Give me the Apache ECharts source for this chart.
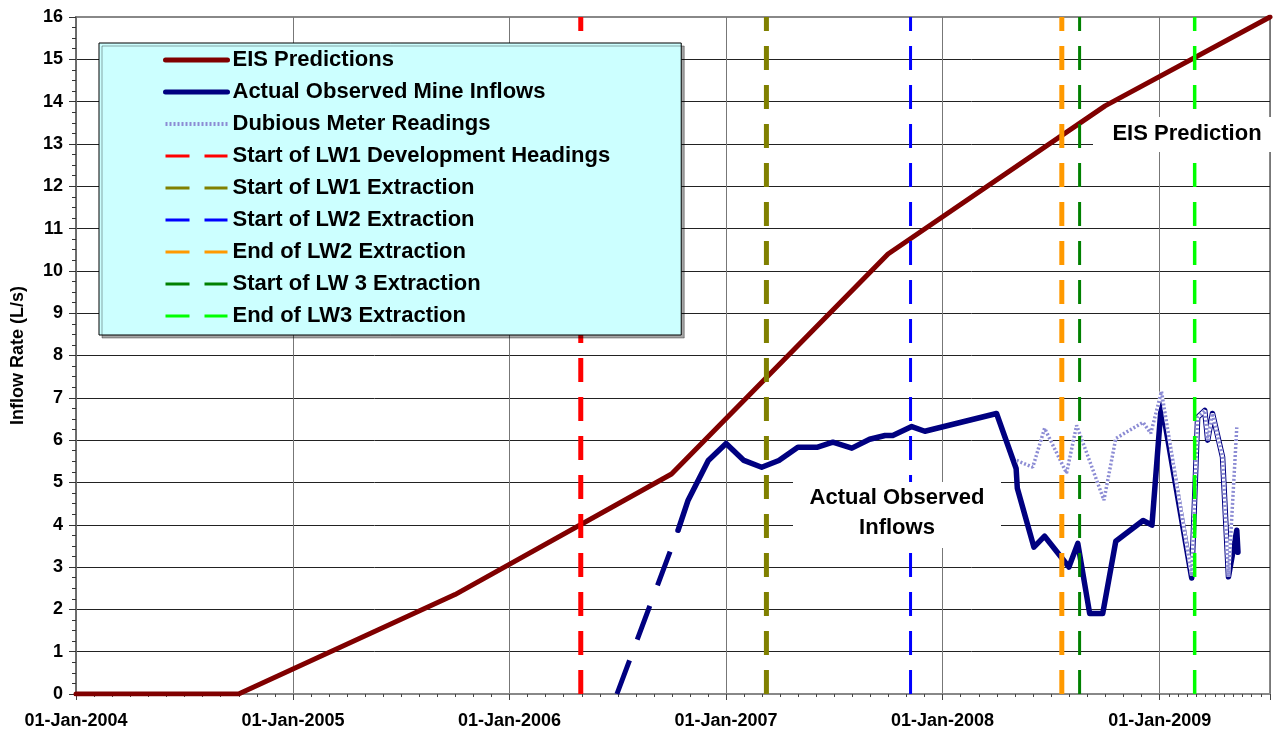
<!DOCTYPE html>
<html>
<head>
<meta charset="utf-8">
<title>Mine inflows vs EIS predictions</title>
<script src="https://cdn.jsdelivr.net/npm/echarts@6/dist/echarts.min.js"></script>
<style>
  html, body { margin: 0; padding: 0; background: #fff; }
  #chart { width: 1279px; height: 733px; }
</style>
</head>
<body>
<div id="chart"></div>
<script>
// EIS predicted inflow (L/s)
const eisDates = ['2004-01-01', '2004-10-01', '2005-10-01', '2006-10-01', '2007-10-01', '2008-10-01', '2009-07-06'];
const eisValues = [0, 0, 2.35, 5.2, 10.4, 13.9, 16];

// inferred ramp-up of observed inflows (dashed)
const rampDates = ['2006-07-01', '2006-10-12'];
const rampValues = [0, 3.87];

// actual observed mine inflows (L/s)
const obsDates = [
  '2006-10-12', '2006-10-29', '2006-12-02', '2007-01-01', '2007-01-31', '2007-03-02', '2007-03-31',
  '2007-05-02', '2007-06-03', '2007-06-30', '2007-08-01', '2007-08-31', '2007-09-26', '2007-10-09',
  '2007-11-10', '2007-12-02', '2008-04-01', '2008-05-04', '2008-05-06', '2008-06-03', '2008-06-21',
  '2008-08-01', '2008-08-16', '2008-09-05', '2008-09-27', '2008-10-19', '2008-12-04', '2008-12-19',
  '2009-01-04', '2009-02-24', '2009-03-06', '2009-03-18', '2009-03-23', '2009-03-31', '2009-04-17',
  '2009-04-27', '2009-05-11', '2009-05-13'
];
const obsValues = [
  3.87, 4.58, 5.52, 5.92, 5.52, 5.36, 5.52,
  5.83, 5.83, 5.95, 5.81, 6.02, 6.11, 6.11,
  6.32, 6.21, 6.63, 5.33, 4.86, 3.47, 3.73,
  3.0, 3.56, 1.9, 1.9, 3.61, 4.1, 3.99,
  6.89, 2.74, 6.54, 6.7, 6.0, 6.63, 5.6,
  2.77, 3.87, 3.35
];

// dubious meter readings (L/s)
const dubDates = [
  '2008-05-05', '2008-06-01', '2008-06-21', '2008-07-28', '2008-08-14', '2008-09-29', '2008-10-19',
  '2008-12-04', '2008-12-17', '2009-01-04', '2009-02-24', '2009-03-06', '2009-03-18', '2009-03-23',
  '2009-03-31', '2009-04-17', '2009-04-27', '2009-05-11'
];
const dubValues = [
  5.52, 5.36, 6.28, 5.22, 6.35, 4.58, 6.04,
  6.42, 6.16, 7.15, 2.8, 6.54, 6.7, 6.0,
  6.63, 5.6, 2.77, 6.3
];

// mining events (vertical dashed markers)
const eventNames = [
  'Start of LW1 Development Headings', 'Start of LW1 Extraction', 'Start of LW2 Extraction',
  'End of LW2 Extraction', 'Start of LW 3 Extraction', 'End of LW3 Extraction'
];
const eventDates = ['2006-05-01', '2007-03-10', '2007-11-08', '2008-07-20', '2008-08-19', '2009-03-01'];
const eventColors = ['#ff0000', '#808000', '#0000ff', '#ff9900', '#008000', '#00ff00'];
const eventWidths = [5, 5, 3, 5, 3, 3.5];

const yTop = 16;
const MONTHS = ['Jan', 'Feb', 'Mar', 'Apr', 'May', 'Jun', 'Jul', 'Aug', 'Sep', 'Oct', 'Nov', 'Dec'];
const FONT = 'Liberation Sans, Arial, sans-serif';
const DASH = [24, 15];

function toTime(s) {
  const p = s.split('-');
  return new Date(+p[0], +p[1] - 1, +p[2]).getTime();
}
function zip(dates, values) {
  return dates.map((d, i) => [toTime(d), values[i]]);
}
function fmtDate(v) {
  const d = new Date(v);
  const dd = d.getDate() < 10 ? '0' + d.getDate() : '' + d.getDate();
  return dd + '-' + MONTHS[d.getMonth()] + '-' + d.getFullYear();
}

const series = [
  {
    name: 'EIS Predictions',
    type: 'line',
    symbol: 'none',
    data: zip(eisDates, eisValues),
    lineStyle: { color: '#800000', width: 5, cap: 'round' },
    itemStyle: { color: '#800000' },
  },
  {
    name: 'Actual Observed Mine Inflows',
    type: 'line',
    symbol: 'none',
    data: zip(obsDates, obsValues),
    lineStyle: { color: '#000080', width: 5.5, cap: 'round', join: 'round' },
    itemStyle: { color: '#000080' },
  },
  {
    name: 'ramp',
    type: 'line',
    symbol: 'none',
    data: zip(rampDates, rampValues),
    lineStyle: { color: '#000080', width: 5, type: [36, 22] },
  },
  {
    name: 'dubious-base',
    type: 'line',
    symbol: 'none',
    data: zip(dubDates, dubValues),
    lineStyle: { color: '#ffffff', width: 3.5 },
  },
  {
    name: 'Dubious Meter Readings',
    type: 'line',
    symbol: 'none',
    data: zip(dubDates, dubValues),
    lineStyle: { color: '#8c8cd4', width: 3.5, type: [2, 2] },
    itemStyle: { color: '#8c8cd4' },
  },
];

eventNames.forEach((name, i) => {
  series.push({
    name: name,
    type: 'line',
    symbol: 'none',
    data: [[toTime(eventDates[i]), 0], [toTime(eventDates[i]), yTop]],
    lineStyle: { color: eventColors[i], width: eventWidths[i], type: DASH },
    itemStyle: { color: eventColors[i] },
  });
});

const legendData = [
  { name: 'EIS Predictions', lineStyle: { width: 5, cap: 'round' } },
  { name: 'Actual Observed Mine Inflows', lineStyle: { width: 5, cap: 'round' } },
  { name: 'Dubious Meter Readings', lineStyle: { width: 4, type: [2, 2] } },
].concat(eventNames.map((n) => ({ name: n, lineStyle: { width: 3, type: DASH } })));

const chart = echarts.init(document.getElementById('chart'));
chart.setOption({
  animation: false,
  textStyle: { fontFamily: FONT },
  grid: {
    left: 76, right: 9, top: 17, bottom: 39,
    show: true, borderColor: '#888', borderWidth: 2, backgroundColor: '#fff',
  },
  legend: {
    data: legendData,
    orient: 'vertical',
    left: 99,
    top: 43,
    selectedMode: false,
    itemWidth: 62,
    itemHeight: 14,
    itemGap: 10,
    padding: [6, 71, 8, 64],
    backgroundColor: '#ccffff',
    borderColor: '#000',
    borderWidth: 1,
    shadowColor: 'rgba(0,0,0,0.35)',
    shadowOffsetX: 3,
    shadowOffsetY: 3,
    itemStyle: { opacity: 0, color: 'transparent', borderWidth: 0 },
    textStyle: { fontFamily: FONT, fontSize: 22, fontWeight: 'bold', color: '#000', lineHeight: 22 },
  },
  xAxis: {
    type: 'time',
    min: toTime('2004-01-01'),
    max: toTime('2009-07-06'),
    splitNumber: 6,
    axisLine: { lineStyle: { color: '#888', width: 2 } },
    axisTick: { show: true, length: 6, lineStyle: { color: '#444' } },
    minorTick: { show: true, splitNumber: 12, length: 3, lineStyle: { color: '#444' } },
    splitLine: { show: true, lineStyle: { color: '#777', width: 1 } },
    axisLabel: {
      formatter: fmtDate,
      fontFamily: FONT, fontSize: 18, fontWeight: 'bold', color: '#000',
      margin: 18, showMinLabel: true, showMaxLabel: false, hideOverlap: false,
    },
  },
  yAxis: {
    type: 'value',
    min: 0,
    max: yTop,
    interval: 1,
    name: 'Inflow Rate (L/s)',
    nameLocation: 'middle',
    nameGap: 49,
    nameTextStyle: { fontFamily: FONT, fontSize: 18, fontWeight: 'bold', color: '#000' },
    axisLine: { show: true, lineStyle: { color: '#666', width: 1.5 } },
    axisTick: { show: true, length: 7, lineStyle: { color: '#333' } },
    minorTick: { show: true, splitNumber: 4, length: 4, lineStyle: { color: '#333' } },
    splitLine: { show: true, showMaxLine: false, lineStyle: { color: '#222', width: 1 } },
    axisLabel: { fontFamily: FONT, fontSize: 18, fontWeight: 'bold', color: '#000', margin: 13 },
  },
  graphic: [
    { type: 'rect', z: 100, left: 793, top: 482, shape: { width: 208, height: 66 }, style: { fill: '#fff' } },
    {
      type: 'text', z: 101, x: 897, y: 513,
      style: {
        text: 'Actual Observed\nInflows', align: 'center', verticalAlign: 'middle',
        font: 'bold 22px ' + FONT, lineHeight: 30, fill: '#000',
      },
    },
    { type: 'rect', z: 100, left: 1093, top: 117, shape: { width: 186, height: 35 }, style: { fill: '#fff' } },
    {
      type: 'text', z: 101, x: 1187, y: 134,
      style: { text: 'EIS Prediction', align: 'center', verticalAlign: 'middle', font: 'bold 22px ' + FONT, fill: '#000' },
    },
  ],
  series: series,
});
</script>
</body>
</html>
